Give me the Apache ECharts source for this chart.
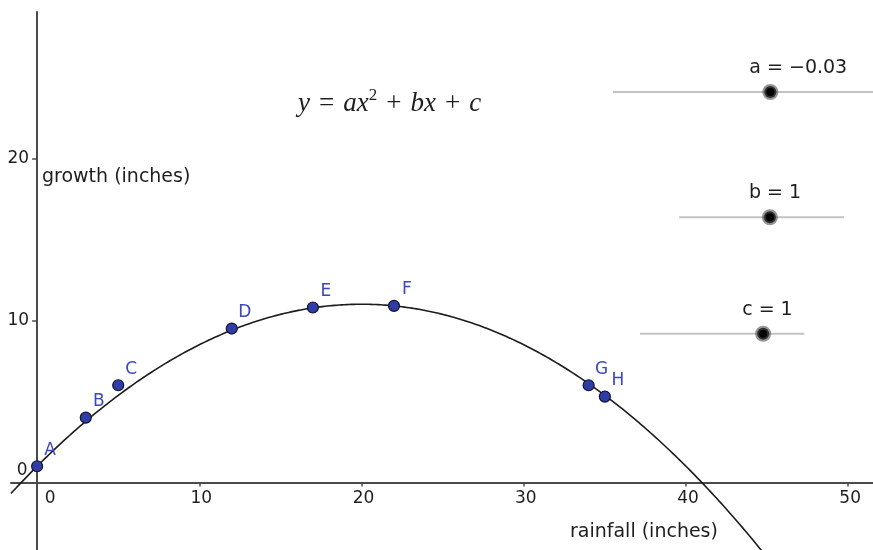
<!DOCTYPE html>
<html>
<head>
<meta charset="utf-8">
<script src="https://cdn.jsdelivr.net/npm/echarts@6/dist/echarts.min.js"></script>
<style>
  html, body { margin: 0; padding: 0; background: #fff; }
  #chart { width: 873px; height: 550px; }
</style>
</head>
<body>
<div id="chart"></div>
<script>
// Observed rainfall (inches) and growth (inches)
const pointNames = ['A', 'B', 'C', 'D', 'E', 'F', 'G', 'H'];
const rainfall = [0, 3, 5, 12, 17, 22, 34, 35];
const growth = [1, 4, 6, 9.5, 10.8, 10.9, 6, 5.3];

// Coefficients of the fitted model y = ax^2 + bx + c
const coefA = -0.025;
const coefB = 1;
const coefC = 1;

// Slider parameters (name, current value, range)
const sliderNames = ['a', 'b', 'c'];
const sliderValues = [coefA, coefB, coefC];
const sliderMin = [-1, -10, -2];
const sliderMax = [1, 10, 2];

// Axis tick values
const xTicks = [10, 20, 30, 40, 50];
const yTicks = [10, 20];

// Layout: view window and slider tracks in axis units
const view = { xMin: -1.61, xMax: 51.53, yMin: -4.17, yMax: 29.04 };
const sliderTracks = [
  { y: 24.1, x0: 35.5, x1: 55.4 },
  { y: 16.37, x0: 39.58, x1: 49.75 },
  { y: 9.18, x0: 37.16, x1: 47.29 }
];

const SANS = 'DejaVu Sans';
const TEXT = '#1e1e1e';
const POINT = '#2f3ea6';

function model(x) {
  return coefA * x * x + coefB * x + coefC;
}

// sample the parabola across the visible window
const curve = [];
for (let i = 0; i <= 1000; i++) {
  const x = view.xMin + (48 - view.xMin) * i / 1000;
  curve.push([x, model(x)]);
}

function fmt(v) {
  const s = Number.isInteger(v) ? String(v) : v.toFixed(2);
  return s.replace('-', '\u2212');
}

const sliderLines = sliderTracks.map((t, i) => ({
  type: 'line',
  name: 'slider-' + sliderNames[i],
  data: [[t.x0, t.y], [t.x1, t.y]],
  showSymbol: false,
  silent: true,
  lineStyle: { color: '#c2c2c2', width: 2 },
  z: 2
}));

const knobs = sliderTracks.map((t, i) => {
  const frac = (sliderValues[i] - sliderMin[i]) / (sliderMax[i] - sliderMin[i]);
  return {
    name: sliderNames[i] + ' = ' + fmt(sliderValues[i]),
    value: [t.x0 + frac * (t.x1 - t.x0), t.y]
  };
});

const plainLabel = { fontFamily: SANS, color: TEXT, textBorderWidth: 0, textShadowBlur: 0 };

const chart = echarts.init(document.getElementById('chart'), null, { renderer: 'canvas' });

chart.setOption({
  animation: false,
  backgroundColor: '#fff',
  grid: { left: 11, top: 12, right: 0, bottom: 0, containLabel: false, outerBoundsMode: 'none' },
  xAxis: {
    type: 'value',
    min: view.xMin,
    max: view.xMax,
    axisLine: { show: true, onZero: true, lineStyle: { color: '#4a4a4a', width: 2 } },
    axisTick: { show: true, customValues: xTicks, length: 4, lineStyle: { color: '#4a4a4a', width: 1.5 } },
    axisLabel: { show: false },
    splitLine: { show: false }
  },
  yAxis: {
    type: 'value',
    min: view.yMin,
    max: view.yMax,
    axisLine: { show: true, onZero: true, lineStyle: { color: '#4a4a4a', width: 2 } },
    axisTick: { show: true, customValues: yTicks, length: 5, lineStyle: { color: '#4a4a4a', width: 1.5 } },
    axisLabel: { show: false },
    splitLine: { show: false }
  },
  graphic: [
    {
      type: 'text', left: 42, top: 168,
      style: { text: 'growth (inches)', font: '19px "DejaVu Sans"', fill: TEXT }
    },
    {
      type: 'text', left: 570, top: 523,
      style: { text: 'rainfall (inches)', font: '19px "DejaVu Sans"', fill: TEXT }
    },
    {
      type: 'text', left: 298, top: 87,
      style: {
        text: '{v|y}{o|=}{v|ax}{s|2}{o|+}{v|bx}{o|+}{v|c}',
        rich: {
          v: { fontFamily: 'Liberation Serif', fontStyle: 'italic', fontSize: 27, fill: TEXT, verticalAlign: 'bottom', lineHeight: 30 },
          o: { fontFamily: 'Liberation Serif', fontSize: 27, fill: TEXT, verticalAlign: 'bottom', lineHeight: 30, padding: [0, 9, 0, 9] },
          s: { fontFamily: 'Liberation Serif', fontSize: 17, fill: TEXT, verticalAlign: 'top', lineHeight: 30 }
        }
      }
    }
  ],
  series: [
    {
      type: 'line',
      name: 'model',
      data: curve,
      showSymbol: false,
      silent: true,
      clip: true,
      lineStyle: { color: '#1c1c1c', width: 1.6 },
      z: 3
    },
    ...sliderLines,
    {
      type: 'scatter',
      name: 'knobs',
      data: knobs,
      symbolSize: 12,
      itemStyle: { color: '#000', opacity: 1, borderColor: 'rgba(80,80,80,0.6)', borderWidth: 4 },
      label: Object.assign({
        show: true,
        formatter: p => p.name,
        position: 'inside',
        align: 'left',
        offset: [-21, -24],
        fontSize: 19
      }, plainLabel),
      z: 5
    },
    {
      type: 'scatter',
      name: 'observations',
      data: rainfall.map((x, i) => ({ name: pointNames[i], value: [x, growth[i]] })),
      symbolSize: 11,
      itemStyle: { color: POINT, opacity: 1, borderColor: '#121230', borderWidth: 1.2 },
      label: Object.assign({}, plainLabel, {
        show: true,
        formatter: p => p.name,
        position: 'inside',
        offset: [13, -16],
        fontSize: 17,
        color: '#3a48bc'
      }),
      z: 6
    },
    {
      // tick labels on the x axis, plus the origin label below it
      type: 'scatter',
      name: 'x-tick-labels',
      symbolSize: 0,
      silent: true,
      itemStyle: { opacity: 1 },
      data: [{ value: [0, 0], label: { offset: [13, 16] } }]
        .concat(xTicks.map(v => ({ value: [v, 0] }))),
      label: Object.assign({
        show: true,
        formatter: p => String(p.value[0]),
        position: 'inside',
        offset: [2, 16],
        fontSize: 17
      }, plainLabel),
      z: 4
    },
    {
      // tick labels on the y axis, plus the origin label beside it
      type: 'scatter',
      name: 'y-tick-labels',
      symbolSize: 0,
      silent: true,
      itemStyle: { opacity: 1 },
      data: [{ value: [0, 0], label: { offset: [-15, -12], align: 'center' } }]
        .concat(yTicks.map(v => ({ value: [0, v] }))),
      label: Object.assign({
        show: true,
        formatter: p => String(p.value[1]),
        position: 'inside',
        align: 'right',
        offset: [-8, 0],
        fontSize: 17
      }, plainLabel),
      z: 4
    }
  ]
});
</script>
</body>
</html>
